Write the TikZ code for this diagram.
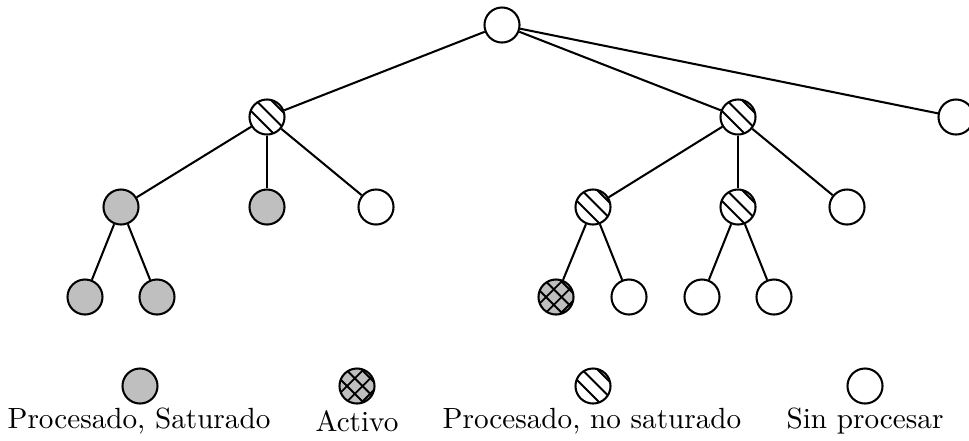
\documentclass[tikz,border=0pt]{standalone}
\usetikzlibrary{calc}

% diagonal hatch strokes, "\" direction, drawn in the current path picture
\newcommand{\hatchNW}{%
  \foreach \d in {-2.4,1.35,5.1}
    \draw[line width=0.65pt, shift={(path picture bounding box.center)}]
      ({\d*0.7071pt-10pt},{\d*0.7071pt+10pt}) -- ++(20pt,-20pt);}
% diagonal hatch strokes, "/" direction
\newcommand{\hatchNE}{%
  \foreach \d in {-2.4,1.35,5.1}
    \draw[line width=0.65pt, shift={(path picture bounding box.center)}]
      ({\d*0.7071pt-10pt},{-\d*0.7071pt-10pt}) -- ++(20pt,20pt);}

\tikzset{
  % tree vertex, plain
  vtx/.style={circle, draw, line width=0.7pt, inner sep=0pt, minimum size=12pt, fill=white},
  % processed, saturated
  sat/.style={vtx, fill=gray!50},
  % processed, not saturated
  nsat/.style={vtx, path picture={\hatchNW}},
  % active
  act/.style={vtx, fill=gray!50, path picture={\hatchNW\hatchNE}},
  edge/.style={line width=0.7pt},
  legtext/.style={inner sep=0pt, font=\normalsize}
}

\begin{document}
\begin{tikzpicture}[x=0.3425pt, y=-0.3425pt]
  \useasboundingbox (0,0) rectangle (969,440);
  \clip (0,0) rectangle (969,440);

  % root and first level
  \node[vtx]  (r) at (502,25)  {};
  \node[nsat] (a) at (267,117) {};
  \node[nsat] (b) at (738,117) {};
  \node[vtx]  (c) at (956,117) {};

  % second level
  \node[sat]  (a1) at (121,207) {};
  \node[sat]  (a2) at (267,207) {};
  \node[vtx]  (a3) at (376,207) {};
  \node[nsat] (b1) at (593,207) {};
  \node[nsat] (b2) at (738,207) {};
  \node[vtx]  (b3) at (847,207) {};

  % third level
  \node[sat]  (a11) at (85,297)  {};
  \node[sat]  (a12) at (157,297) {};
  \node[act]  (b11) at (556,297) {};
  \node[vtx]  (b12) at (629,297) {};
  \node[vtx]  (b21) at (702,297) {};
  \node[vtx]  (b22) at (774,297) {};

  % tree edges
  \draw[edge] (r) -- (a);
  \draw[edge] (r) -- (b);
  \draw[edge] (r) -- (c);
  \draw[edge] (a) -- (a1);
  \draw[edge] (a) -- (a2);
  \draw[edge] (a) -- (a3);
  \draw[edge] (a1) -- (a11);
  \draw[edge] (a1) -- (a12);
  \draw[edge] (b) -- (b1);
  \draw[edge] (b) -- (b2);
  \draw[edge] (b) -- (b3);
  \draw[edge] (b1) -- (b11);
  \draw[edge] (b1) -- (b12);
  \draw[edge] (b2) -- (b21);
  \draw[edge] (b2) -- (b22);

  % legend
  \node[sat]  (l1) at (140,386) {};
  \node[act]  (l2) at (357,386) {};
  \node[nsat] (l3) at (593,386) {};
  \node[vtx]  (l4) at (865,386) {};
  \node[legtext] (t1) at (139,421) {Procesado, Saturado};
  \node[legtext] (t2) at (357,421) {Activo};
  \node[legtext] (t3) at (592,421) {Procesado, no saturado};
  \node[legtext] (t4) at (865,421) {Sin procesar};
\end{tikzpicture}
\end{document}
